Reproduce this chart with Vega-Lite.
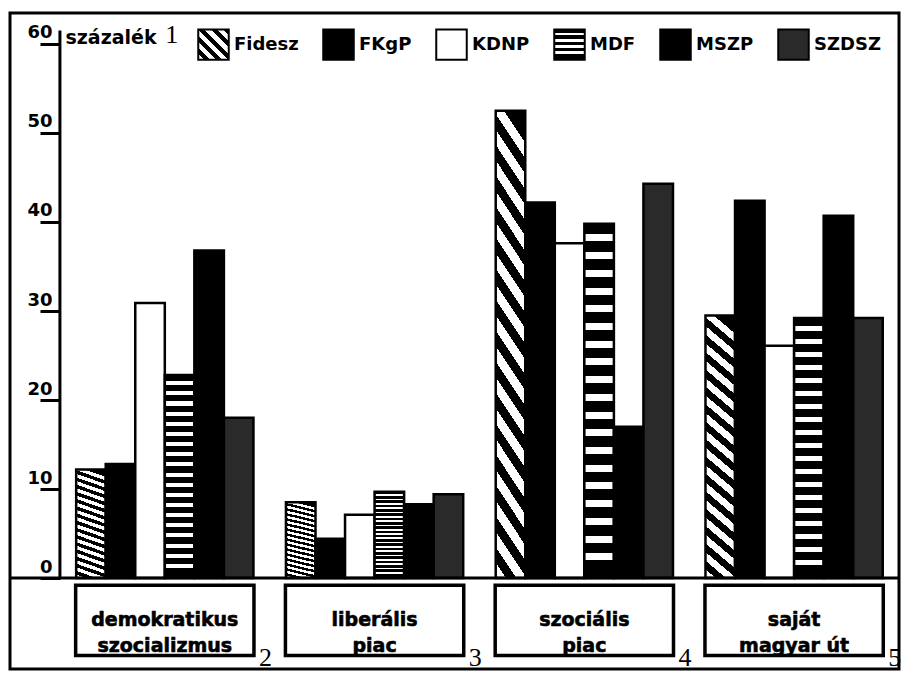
{
  "$schema": "https://vega.github.io/schema/vega-lite/v6.json",
  "width": 889,
  "height": 656,
  "autosize": {"type": "none"},
  "padding": {"left": 10, "top": 13, "right": 2, "bottom": 6},
  "background": "white",
  "config": {"view": {"stroke": "black", "strokeWidth": 3}, "font": "DejaVu Sans"},
  "datasets": {
    "survey": [
      {"category": "demokratikus szocializmus", "party": "Fidesz", "value": 12.2},
      {"category": "demokratikus szocializmus", "party": "FKgP", "value": 12.8},
      {"category": "demokratikus szocializmus", "party": "KDNP", "value": 30.9},
      {"category": "demokratikus szocializmus", "party": "MDF", "value": 22.8},
      {"category": "demokratikus szocializmus", "party": "MSZP", "value": 36.8},
      {"category": "demokratikus szocializmus", "party": "SZDSZ", "value": 18.0},
      {"category": "liberális piac", "party": "Fidesz", "value": 8.5},
      {"category": "liberális piac", "party": "FKgP", "value": 4.4},
      {"category": "liberális piac", "party": "KDNP", "value": 7.1},
      {"category": "liberális piac", "party": "MDF", "value": 9.7},
      {"category": "liberális piac", "party": "MSZP", "value": 8.3},
      {"category": "liberális piac", "party": "SZDSZ", "value": 9.4},
      {"category": "szociális piac", "party": "Fidesz", "value": 52.5},
      {"category": "szociális piac", "party": "FKgP", "value": 42.2},
      {"category": "szociális piac", "party": "KDNP", "value": 37.6},
      {"category": "szociális piac", "party": "MDF", "value": 39.8},
      {"category": "szociális piac", "party": "MSZP", "value": 17.0},
      {"category": "szociális piac", "party": "SZDSZ", "value": 44.3},
      {"category": "saját magyar út", "party": "Fidesz", "value": 29.5},
      {"category": "saját magyar út", "party": "FKgP", "value": 42.4},
      {"category": "saját magyar út", "party": "KDNP", "value": 26.1},
      {"category": "saját magyar út", "party": "MDF", "value": 29.2},
      {"category": "saját magyar út", "party": "MSZP", "value": 40.7},
      {"category": "saját magyar út", "party": "SZDSZ", "value": 29.2}
    ],
    "cats": [
      {"category": "demokratikus szocializmus", "label": "demokratikus\nszocializmus", "note": "2"},
      {"category": "liberális piac", "label": "liberális\npiac", "note": "3"},
      {"category": "szociális piac", "label": "szociális\npiac", "note": "4"},
      {"category": "saját magyar út", "label": "saját\nmagyar út", "note": "5"}
    ]
  },
  "layer": [
    {
      "data": {"name": "survey"},
      "mark": {"type": "bar", "strokeWidth": 2.5},
      "encoding": {
        "x": {
          "field": "category", "type": "nominal", "axis": null,
          "scale": {"domain": ["demokratikus szocializmus", "liberális piac", "szociális piac", "saját magyar út"], "paddingInner": 0, "paddingOuter": 0.119, "align": 1}
        },
        "xOffset": {
          "field": "party", "type": "nominal",
          "scale": {"domain": ["Fidesz", "FKgP", "KDNP", "MDF", "MSZP", "SZDSZ"], "paddingInner": 0, "paddingOuter": 0.55}
        },
        "y": {
          "field": "value", "type": "quantitative",
          "scale": {"domain": [-10.22, 63.48], "nice": false, "zero": false},
          "axis": {
            "offset": -50, "values": [0, 10, 20, 30, 40, 50, 60], "domain": false, "grid": false,
            "tickSize": 20, "tickWidth": 3, "tickColor": "black",
            "labelFont": "DejaVu Sans", "labelFontWeight": "bold", "labelFontSize": 18, "labelColor": "black",
            "labelAlign": "right", "labelBaseline": "bottom", "labelPadding": -12, "labelOffset": -2,
            "labelFlush": false, "labelOverlap": false, "labelBound": false,
            "title": "százalék", "titleAngle": 0, "titleAlign": "left", "titleBaseline": "alphabetic",
            "titleX": 5, "titleY": 30, "titleFont": "DejaVu Sans", "titleFontSize": 19, "titleFontWeight": "bold", "titleColor": "black"
          }
        },
        "fill": {
          "condition": [
            {"test": "datum.party === 'Fidesz'", "value": {"gradient": "linear", "x1": 0, "y1": 1, "x2": 0.1, "y2": -0.05, "stops": [
              {"offset": 0, "color": "white"}, {"offset": 0.03125, "color": "white"}, {"offset": 0.03125, "color": "black"}, {"offset": 0.0625, "color": "black"},
              {"offset": 0.0625, "color": "white"}, {"offset": 0.09375, "color": "white"}, {"offset": 0.09375, "color": "black"}, {"offset": 0.125, "color": "black"},
              {"offset": 0.125, "color": "white"}, {"offset": 0.15625, "color": "white"}, {"offset": 0.15625, "color": "black"}, {"offset": 0.1875, "color": "black"},
              {"offset": 0.1875, "color": "white"}, {"offset": 0.21875, "color": "white"}, {"offset": 0.21875, "color": "black"}, {"offset": 0.25, "color": "black"},
              {"offset": 0.25, "color": "white"}, {"offset": 0.28125, "color": "white"}, {"offset": 0.28125, "color": "black"}, {"offset": 0.3125, "color": "black"},
              {"offset": 0.3125, "color": "white"}, {"offset": 0.34375, "color": "white"}, {"offset": 0.34375, "color": "black"}, {"offset": 0.375, "color": "black"},
              {"offset": 0.375, "color": "white"}, {"offset": 0.40625, "color": "white"}, {"offset": 0.40625, "color": "black"}, {"offset": 0.4375, "color": "black"},
              {"offset": 0.4375, "color": "white"}, {"offset": 0.46875, "color": "white"}, {"offset": 0.46875, "color": "black"}, {"offset": 0.5, "color": "black"},
              {"offset": 0.5, "color": "white"}, {"offset": 0.53125, "color": "white"}, {"offset": 0.53125, "color": "black"}, {"offset": 0.5625, "color": "black"},
              {"offset": 0.5625, "color": "white"}, {"offset": 0.59375, "color": "white"}, {"offset": 0.59375, "color": "black"}, {"offset": 0.625, "color": "black"},
              {"offset": 0.625, "color": "white"}, {"offset": 0.65625, "color": "white"}, {"offset": 0.65625, "color": "black"}, {"offset": 0.6875, "color": "black"},
              {"offset": 0.6875, "color": "white"}, {"offset": 0.71875, "color": "white"}, {"offset": 0.71875, "color": "black"}, {"offset": 0.75, "color": "black"},
              {"offset": 0.75, "color": "white"}, {"offset": 0.78125, "color": "white"}, {"offset": 0.78125, "color": "black"}, {"offset": 0.8125, "color": "black"},
              {"offset": 0.8125, "color": "white"}, {"offset": 0.84375, "color": "white"}, {"offset": 0.84375, "color": "black"}, {"offset": 0.875, "color": "black"},
              {"offset": 0.875, "color": "white"}, {"offset": 0.90625, "color": "white"}, {"offset": 0.90625, "color": "black"}, {"offset": 0.9375, "color": "black"},
              {"offset": 0.9375, "color": "white"}, {"offset": 0.96875, "color": "white"}, {"offset": 0.96875, "color": "black"}, {"offset": 1, "color": "black"}
            ]}},
            {"test": "datum.party === 'MDF'", "value": {"gradient": "linear", "x1": 0, "y1": 0, "x2": 0, "y2": 1, "stops": [
              {"offset": 0, "color": "black"}, {"offset": 0.03, "color": "black"}, {"offset": 0.03, "color": "white"}, {"offset": 0.05, "color": "white"},
              {"offset": 0.05, "color": "black"}, {"offset": 0.08, "color": "black"}, {"offset": 0.08, "color": "white"}, {"offset": 0.1, "color": "white"},
              {"offset": 0.1, "color": "black"}, {"offset": 0.13, "color": "black"}, {"offset": 0.13, "color": "white"}, {"offset": 0.15, "color": "white"},
              {"offset": 0.15, "color": "black"}, {"offset": 0.18, "color": "black"}, {"offset": 0.18, "color": "white"}, {"offset": 0.2, "color": "white"},
              {"offset": 0.2, "color": "black"}, {"offset": 0.23, "color": "black"}, {"offset": 0.23, "color": "white"}, {"offset": 0.25, "color": "white"},
              {"offset": 0.25, "color": "black"}, {"offset": 0.28, "color": "black"}, {"offset": 0.28, "color": "white"}, {"offset": 0.3, "color": "white"},
              {"offset": 0.3, "color": "black"}, {"offset": 0.33, "color": "black"}, {"offset": 0.33, "color": "white"}, {"offset": 0.35, "color": "white"},
              {"offset": 0.35, "color": "black"}, {"offset": 0.38, "color": "black"}, {"offset": 0.38, "color": "white"}, {"offset": 0.4, "color": "white"},
              {"offset": 0.4, "color": "black"}, {"offset": 0.43, "color": "black"}, {"offset": 0.43, "color": "white"}, {"offset": 0.45, "color": "white"},
              {"offset": 0.45, "color": "black"}, {"offset": 0.48, "color": "black"}, {"offset": 0.48, "color": "white"}, {"offset": 0.5, "color": "white"},
              {"offset": 0.5, "color": "black"}, {"offset": 0.53, "color": "black"}, {"offset": 0.53, "color": "white"}, {"offset": 0.55, "color": "white"},
              {"offset": 0.55, "color": "black"}, {"offset": 0.58, "color": "black"}, {"offset": 0.58, "color": "white"}, {"offset": 0.6, "color": "white"},
              {"offset": 0.6, "color": "black"}, {"offset": 0.63, "color": "black"}, {"offset": 0.63, "color": "white"}, {"offset": 0.65, "color": "white"},
              {"offset": 0.65, "color": "black"}, {"offset": 0.68, "color": "black"}, {"offset": 0.68, "color": "white"}, {"offset": 0.7, "color": "white"},
              {"offset": 0.7, "color": "black"}, {"offset": 0.73, "color": "black"}, {"offset": 0.73, "color": "white"}, {"offset": 0.75, "color": "white"},
              {"offset": 0.75, "color": "black"}, {"offset": 0.78, "color": "black"}, {"offset": 0.78, "color": "white"}, {"offset": 0.8, "color": "white"},
              {"offset": 0.8, "color": "black"}, {"offset": 0.83, "color": "black"}, {"offset": 0.83, "color": "white"}, {"offset": 0.85, "color": "white"},
              {"offset": 0.85, "color": "black"}, {"offset": 0.88, "color": "black"}, {"offset": 0.88, "color": "white"}, {"offset": 0.9, "color": "white"},
              {"offset": 0.9, "color": "black"}, {"offset": 0.93, "color": "black"}, {"offset": 0.93, "color": "white"}, {"offset": 0.95, "color": "white"},
              {"offset": 0.95, "color": "black"}, {"offset": 1, "color": "black"}
            ]}},
            {"test": "datum.party === 'KDNP'", "value": "white"},
            {"test": "datum.party === 'SZDSZ'", "value": "#2a2a2a"}
          ],
          "value": "black"
        },
        "stroke": {
          "field": "party", "type": "nominal",
          "scale": {
            "domain": ["Fidesz", "FKgP", "KDNP", "MDF", "MSZP", "SZDSZ"],
            "range": ["black", "black", "black", "black", "black", "black"]
          },
          "legend": {
            "title": null, "orient": "none", "direction": "horizontal", "legendX": 187, "legendY": 15,
            "symbolType": "square", "symbolSize": 930, "symbolStrokeColor": "black", "symbolStrokeWidth": 2,
            "labelFont": "DejaVu Sans", "labelFontWeight": "bold", "labelFontSize": 18, "labelColor": "black",
            "labelOffset": 4, "columnPadding": 20, "labelLimit": 0,
            "encoding": {
              "symbols": {
                "strokeWidth": {"value": 2},
                "fill": {
                  "condition": [
                    {"test": "datum.value === 'Fidesz'", "value": {"gradient": "linear", "x1": 0, "y1": 1, "x2": 1, "y2": 0, "stops": [
                      {"offset": 0, "color": "white"}, {"offset": 0.1, "color": "white"}, {"offset": 0.1, "color": "black"}, {"offset": 0.2, "color": "black"},
                      {"offset": 0.2, "color": "white"}, {"offset": 0.3, "color": "white"}, {"offset": 0.3, "color": "black"}, {"offset": 0.4, "color": "black"},
                      {"offset": 0.4, "color": "white"}, {"offset": 0.5, "color": "white"}, {"offset": 0.5, "color": "black"}, {"offset": 0.6, "color": "black"},
                      {"offset": 0.6, "color": "white"}, {"offset": 0.7, "color": "white"}, {"offset": 0.7, "color": "black"}, {"offset": 0.8, "color": "black"},
                      {"offset": 0.8, "color": "white"}, {"offset": 0.9, "color": "white"}, {"offset": 0.9, "color": "black"}, {"offset": 1, "color": "black"}
                    ]}},
                    {"test": "datum.value === 'MDF'", "value": {"gradient": "linear", "x1": 0, "y1": 0, "x2": 0, "y2": 1, "stops": [
                      {"offset": 0, "color": "black"}, {"offset": 0.12, "color": "black"}, {"offset": 0.12, "color": "white"}, {"offset": 0.2, "color": "white"},
                      {"offset": 0.2, "color": "black"}, {"offset": 0.32, "color": "black"}, {"offset": 0.32, "color": "white"}, {"offset": 0.4, "color": "white"},
                      {"offset": 0.4, "color": "black"}, {"offset": 0.52, "color": "black"}, {"offset": 0.52, "color": "white"}, {"offset": 0.6, "color": "white"},
                      {"offset": 0.6, "color": "black"}, {"offset": 0.72, "color": "black"}, {"offset": 0.72, "color": "white"}, {"offset": 0.8, "color": "white"},
                      {"offset": 0.8, "color": "black"}, {"offset": 1, "color": "black"}
                    ]}},
                    {"test": "datum.value === 'KDNP'", "value": "white"},
                    {"test": "datum.value === 'SZDSZ'", "value": "#2a2a2a"}
                  ],
                  "value": "black"
                }
              }
            }
          }
        }
      }
    },
    {
      "data": {"name": "cats"},
      "mark": {"type": "bar", "fill": "white", "stroke": "black", "strokeWidth": 3.5, "width": {"band": 0.85}},
      "encoding": {
        "x": {"field": "category", "type": "nominal", "axis": null},
        "y": {"datum": -0.8, "type": "quantitative"},
        "y2": {"datum": -8.7}
      }
    },
    {
      "data": {"name": "cats"},
      "mark": {"type": "text", "font": "DejaVu Sans", "fontWeight": "bold", "fontSize": 19, "lineBreak": "\n", "lineHeight": 26, "baseline": "middle", "align": "center", "color": "black", "stroke": "black", "strokeWidth": 0.6},
      "encoding": {
        "x": {"field": "category", "type": "nominal", "axis": null},
        "y": {"datum": -4.75, "type": "quantitative"},
        "text": {"field": "label", "type": "nominal"}
      }
    },
    {
      "data": {"name": "cats"},
      "mark": {"type": "text", "font": "Liberation Serif", "fontSize": 26, "baseline": "alphabetic", "align": "center", "color": "black"},
      "encoding": {
        "x": {"field": "category", "type": "nominal", "axis": null, "bandPosition": 0.98},
        "y": {"datum": -9.85, "type": "quantitative"},
        "text": {"field": "note", "type": "nominal"}
      }
    },
    {
      "data": {"values": [{}]},
      "mark": {"type": "rule", "strokeWidth": 3, "color": "black"},
      "encoding": {"y": {"datum": 0, "type": "quantitative"}}
    },
    {
      "data": {"values": [{}]},
      "mark": {"type": "rule", "strokeWidth": 3, "color": "black"},
      "encoding": {
        "x": {"datum": "demokratikus szocializmus", "type": "nominal", "bandPosition": 0, "axis": null},
        "y": {"datum": 0, "type": "quantitative"},
        "y2": {"datum": 61.5}
      }
    },
    {
      "data": {"values": [{}]},
      "mark": {"type": "text", "font": "Liberation Serif", "fontSize": 26, "align": "center", "baseline": "alphabetic", "color": "black"},
      "encoding": {
        "x": {"datum": "demokratikus szocializmus", "type": "nominal", "bandPosition": 0.533, "axis": null},
        "y": {"datum": 60.1, "type": "quantitative"},
        "text": {"value": "1"}
      }
    }
  ]
}
